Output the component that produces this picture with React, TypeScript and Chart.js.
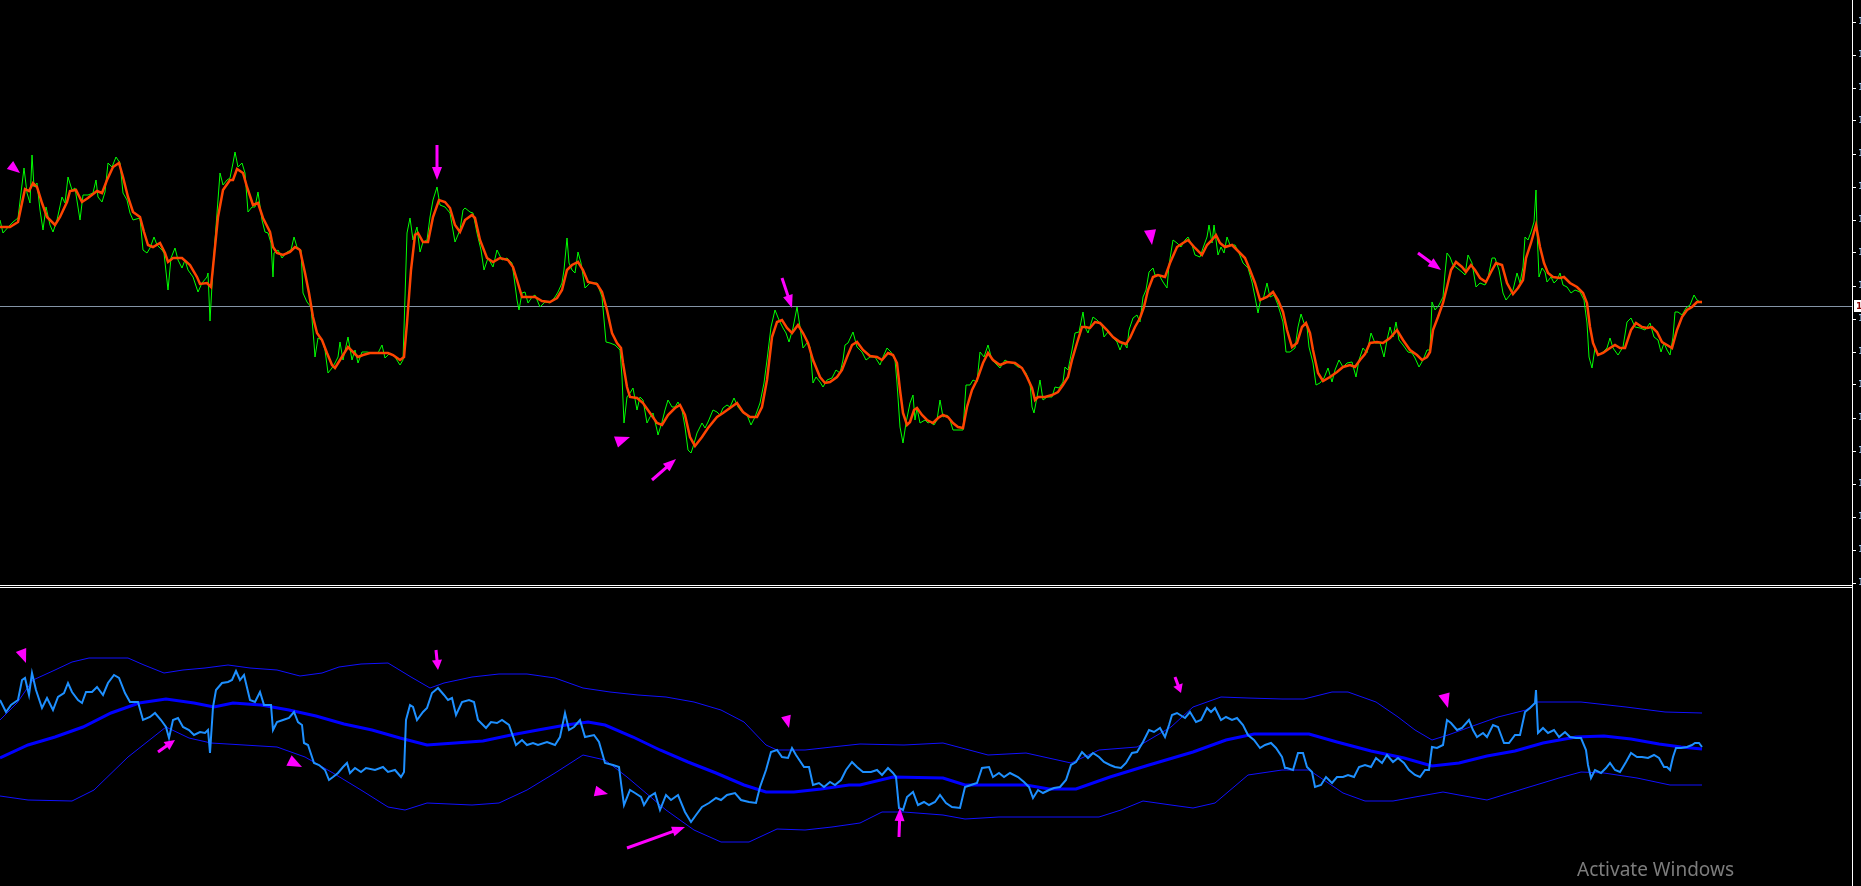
import React, { useEffect, useRef } from 'react';
import { Chart, registerables } from 'chart.js';

Chart.register(...registerables);

// ---------- price panel (bar index, price) ----------
const priceCloses: [number, number][] = [
  [0,1.12365],[3,1.12352],[10,1.12360],[13,1.12363],[18,1.12367],[21,1.12392],[24,1.12417],[27,1.12392],[30,1.12382],[32,1.12430],[34,1.12398],[37,1.12402],[40,1.12375],[43,1.12355],[46,1.12378],[50,1.12360],[53,1.12353],[57,1.12365],[62,1.12388],[65,1.12382],[68,1.12408],[72,1.12395],[75,1.12397],[80,1.12365],[83,1.12390],[88,1.12390],[93,1.12392],[96,1.12405],[98,1.12388],[102,1.12383],[105,1.12393],[108,1.12422],[112,1.12418],[116,1.12428],[120,1.12422],[123,1.12392],[127,1.12385],[130,1.12372],[133,1.12365],[140,1.12367],[143,1.12335],[147,1.12332],[150,1.12337],[154,1.12348],[157,1.12340],[162,1.12335],[164,1.12332],[168,1.12295],[171,1.12327],[175,1.12337],[178,1.12325],[182,1.12317],[185,1.12325],[188,1.12315],[193,1.12308],[198,1.12293],[202,1.12302],[207,1.12308],[208,1.12312],[210,1.12264],[213,1.12318],[217,1.12372],[220,1.12412],[223,1.12400],[227,1.12405],[230,1.12407],[233,1.12422],[235,1.12433],[238,1.12418],[242,1.12422],[245,1.12412],[248,1.12373],[252,1.12378],[255,1.12378],[258,1.12393],[262,1.12365],[265,1.12353],[268,1.12352],[271,1.12342],[273,1.12308],[274,1.12332],[278,1.12335],[282,1.12327],[287,1.12333],[291,1.12335],[294,1.12348],[297,1.12338],[301,1.12335],[303,1.12292],[307,1.12283],[311,1.12278],[314,1.12242],[315,1.12228],[318,1.12247],[322,1.12245],[325,1.12235],[328,1.12212],[332,1.12217],[335,1.12222],[338,1.12228],[340,1.12243],[343,1.12225],[348,1.12248],[352,1.12225],[355,1.12235],[358,1.12222],[362,1.12233],[367,1.12233],[373,1.12232],[378,1.12232],[382,1.12240],[385,1.12227],[390,1.12232],[395,1.12228],[400,1.12220],[403,1.12225],[405,1.12288],[407,1.12352],[410,1.12367],[413,1.12345],[417,1.12358],[420,1.12333],[423,1.12343],[427,1.12345],[430,1.12368],[433,1.12385],[437,1.12398],[440,1.12380],[445,1.12378],[450,1.12372],[455,1.12343],[460,1.12355],
  [463,1.12375],[465,1.12377],[470,1.12373],[473,1.12372],[477,1.12352],[481,1.12335],[484,1.12315],[488,1.12327],[493,1.12318],[497,1.12335],[502,1.12325],[507,1.12327],[512,1.12322],[514,1.12308],[517,1.12285],[519,1.12275],[522,1.12292],[525,1.12293],[528,1.12282],[532,1.12288],[535,1.12290],[540,1.12278],[545,1.12283],[550,1.12282],[555,1.12288],[558,1.12293],[562,1.12302],[564,1.12315],[567,1.12347],[569,1.12322],[572,1.12315],[575,1.12312],[578,1.12333],[581,1.12322],[585,1.12297],[590,1.12302],[597,1.12302],[602,1.12288],[606,1.12243],[610,1.12242],[615,1.12240],[620,1.12235],[622,1.12208],[624,1.12162],[627,1.12188],[630,1.12192],[633,1.12197],[637,1.12175],[640,1.12188],[643,1.12185],[647,1.12162],[650,1.12168],[653,1.12172],[657,1.12155],[658,1.12150],[662,1.12163],[665,1.12175],[668,1.12185],[672,1.12178],[675,1.12178],[678,1.12183],[682,1.12175],[685,1.12158],[688,1.12135],[691,1.12132],[693,1.12138],[697,1.12152],[702,1.12162],[705,1.12157],[708,1.12163],[713,1.12175],[717,1.12173],[720,1.12170],[723,1.12177],[727,1.12180],[730,1.12178],[734,1.12187],[738,1.12178],[743,1.12172],[747,1.12170],[751,1.12160],[755,1.12168],[760,1.12182],[764,1.12202],[767,1.12225],[771,1.12258],[775,1.12275],[779,1.12265],[783,1.12257],[786,1.12252],[789,1.12243],[793,1.12257],[797,1.12278],[800,1.12258],[803,1.12237],[807,1.12242],[810,1.12238],[813,1.12202],[816,1.12208],[820,1.12203],[823,1.12198],[827,1.12205],[832,1.12207],[836,1.12215],[840,1.12212],[843,1.12225],[845,1.12240],[848,1.12242],[853,1.12253],[857,1.12238],[862,1.12233],[866,1.12225],[870,1.12228],[875,1.12228],[880,1.12220],[883,1.12228],[887,1.12237],[891,1.12233],[895,1.12225],[897,1.12202],[900,1.12158],[903,1.12142],[906,1.12162],[910,1.12182],[913,1.12190],[915,1.12165],[917,1.12177],[920,1.12162],[925,1.12165],[928,1.12162],
  [930,1.12163],[934,1.12160],[937,1.12165],[940,1.12185],[943,1.12168],[947,1.12170],[950,1.12165],[953,1.12155],[958,1.12155],[963,1.12155],[966,1.12200],[970,1.12200],[973,1.12205],[977,1.12203],[980,1.12233],[984,1.12228],[988,1.12240],[992,1.12225],[995,1.12222],[1000,1.12217],[1005,1.12225],[1008,1.12223],[1013,1.12222],[1018,1.12218],[1022,1.12217],[1026,1.12212],[1030,1.12202],[1032,1.12178],[1034,1.12172],[1037,1.12188],[1040,1.12205],[1043,1.12185],[1047,1.12188],[1052,1.12188],[1055,1.12198],[1059,1.12197],[1063,1.12203],[1065,1.12218],[1068,1.12215],[1072,1.12235],[1075,1.12252],[1079,1.12253],[1083,1.12273],[1085,1.12258],[1088,1.12252],[1093,1.12268],[1097,1.12265],[1102,1.12260],[1104,1.12248],[1108,1.12253],[1113,1.12247],[1117,1.12243],[1120,1.12235],[1123,1.12243],[1127,1.12237],[1129,1.12255],[1133,1.12267],[1137,1.12270],[1140,1.12263],[1143,1.12288],[1146,1.12295],[1149,1.12313],[1153,1.12317],[1155,1.12310],[1159,1.12310],[1163,1.12303],[1167,1.12297],[1169,1.12320],[1173,1.12345],[1177,1.12342],[1181,1.12338],[1185,1.12345],[1188,1.12348],[1192,1.12340],[1195,1.12330],[1200,1.12328],[1203,1.12337],[1207,1.12348],[1209,1.12360],[1212,1.12342],[1214,1.12360],[1218,1.12330],[1221,1.12338],[1224,1.12332],[1227,1.12348],[1230,1.12340],[1235,1.12340],[1239,1.12332],[1243,1.12322],[1248,1.12317],[1252,1.12303],[1255,1.12288],[1258,1.12272],[1261,1.12287],[1263,1.12285],[1267,1.12302],[1270,1.12288],[1274,1.12290],[1278,1.12280],[1283,1.12263],[1286,1.12233],[1290,1.12233],[1295,1.12237],[1298,1.12258],[1301,1.12271],[1304,1.12262],[1307,1.12258],[1309,1.12238],[1313,1.12222],[1316,1.12200],[1320,1.12202],[1324,1.12207],[1328,1.12217],[1332,1.12203],[1335,1.12215],[1339,1.12225],[1343,1.12218],[1347,1.12222],[1352,1.12223],[1356,1.12208],[1359,1.12225],[1363,1.12237],[1367,1.12232],[1371,1.12252],[1375,1.12242],[1380,1.12242],[1384,1.12228],[1387,1.12245],
  [1390,1.12258],[1393,1.12248],[1396,1.12263],[1399,1.12245],[1403,1.12240],[1408,1.12233],[1412,1.12232],[1415,1.12227],[1419,1.12218],[1423,1.12225],[1427,1.12235],[1430,1.12235],[1432,1.12283],[1435,1.12275],[1439,1.12280],[1443,1.12288],[1445,1.12312],[1447,1.12332],[1450,1.12328],[1453,1.12320],[1457,1.12317],[1462,1.12313],[1465,1.12310],[1468,1.12330],[1472,1.12322],[1476,1.12298],[1480,1.12302],[1485,1.12300],[1488,1.12307],[1492,1.12327],[1495,1.12327],[1499,1.12315],[1503,1.12292],[1506,1.12285],[1510,1.12290],[1513,1.12295],[1517,1.12312],[1520,1.12302],[1523,1.12318],[1525,1.12348],[1528,1.12345],[1531,1.12353],[1534,1.12363],[1536,1.12395],[1537,1.12355],[1539,1.12308],[1542,1.12317],[1545,1.12313],[1547,1.12303],[1551,1.12308],[1554,1.12302],[1557,1.12305],[1560,1.12312],[1563,1.12300],[1567,1.12298],[1571,1.12292],[1575,1.12295],[1580,1.12293],[1584,1.12285],[1587,1.12262],[1589,1.12228],[1592,1.12217],[1595,1.12237],[1598,1.12230],[1603,1.12233],[1607,1.12237],[1610,1.12247],[1613,1.12237],[1618,1.12230],[1623,1.12238],[1627,1.12263],[1631,1.12267],[1635,1.12258],[1640,1.12257],[1645,1.12255],[1650,1.12262],[1654,1.12248],[1658,1.12245],[1661,1.12233],[1664,1.12242],[1667,1.12235],[1670,1.12230],[1673,1.12248],[1675,1.12273],[1678,1.12273],[1682,1.12270],[1686,1.12277],[1690,1.12280],[1694,1.12290],[1697,1.12285],[1702,1.12282]
];

const priceAverage: [number, number][] = [
  [0,1.12358],[10,1.12358],[18,1.12363],[22,1.12382],[25,1.12396],[29,1.12394],[33,1.12402],[37,1.12398],[42,1.12382],[47,1.12368],[55,1.12360],[60,1.12368],[67,1.12383],[70,1.12394],[76,1.12395],[82,1.12383],[88,1.12387],[97,1.12394],[102,1.12392],[107,1.12405],[113,1.12418],[119,1.12422],[123,1.12408],[128,1.12388],[133,1.12373],[140,1.12368],[144,1.12353],[148,1.12340],[153,1.12338],[160,1.12342],[165,1.12332],[168,1.12323],[173,1.12327],[182,1.12327],[190,1.12320],[197,1.12308],[200,1.12301],[207,1.12302],[211,1.12298],[215,1.12338],[218,1.12368],[223,1.12395],[230,1.12405],[233,1.12405],[237,1.12416],[243,1.12412],[247,1.12398],[253,1.12380],[258,1.12382],[263,1.12367],[270,1.12353],[273,1.12338],[277,1.12332],[283,1.12330],[290,1.12333],[295,1.12338],[300,1.12335],[305,1.12312],[309,1.12292],[313,1.12268],[317,1.12252],[322,1.12245],[327,1.12232],[332,1.12220],[335,1.12217],[340,1.12225],[348,1.12238],[353,1.12233],[358,1.12228],[363,1.12230],[370,1.12232],[380,1.12232],[388,1.12232],[393,1.12230],[400,1.12225],[404,1.12228],[407,1.12262],[411,1.12315],[415,1.12350],[418,1.12352],[423,1.12343],[428,1.12343],[433,1.12368],[439,1.12385],[445,1.12383],[450,1.12377],[455,1.12360],[460,1.12353],
  [465,1.12365],[472,1.12370],[475,1.12367],[480,1.12345],[487,1.12327],[493,1.12323],[500,1.12327],[508,1.12325],[513,1.12318],[517,1.12305],[522,1.12288],[527,1.12288],[535,1.12288],[542,1.12284],[550,1.12283],[557,1.12287],[562,1.12295],[567,1.12315],[572,1.12320],[578,1.12323],[583,1.12315],[588,1.12303],[597,1.12301],[602,1.12293],[607,1.12275],[612,1.12252],[617,1.12242],[621,1.12237],[623,1.12222],[627,1.12198],[630,1.12188],[637,1.12187],[643,1.12182],[650,1.12172],[657,1.12162],[662,1.12160],[668,1.12170],[675,1.12177],[680,1.12180],[685,1.12170],[690,1.12148],[695,1.12139],[702,1.12148],[708,1.12157],[717,1.12168],[723,1.12172],[730,1.12177],[737,1.12182],[743,1.12173],[750,1.12168],[757,1.12168],[762,1.12178],[767,1.12205],[772,1.12248],[777,1.12263],[782,1.12265],[787,1.12257],[792,1.12252],[798,1.12260],[803,1.12252],[808,1.12242],[813,1.12225],[820,1.12208],[825,1.12202],[830,1.12203],[837,1.12208],[842,1.12215],[847,1.12228],[852,1.12240],[857,1.12243],[863,1.12235],[870,1.12229],[877,1.12228],[882,1.12225],[888,1.12232],[893,1.12230],[897,1.12222],[900,1.12195],[903,1.12172],[907,1.12160],[910,1.12163],[914,1.12175],[917,1.12177],[922,1.12170],[927,1.12165],
  [933,1.12162],[938,1.12167],[943,1.12170],[948,1.12168],[953,1.12162],[958,1.12158],[963,1.12157],[967,1.12178],[972,1.12195],[977,1.12205],[983,1.12222],[988,1.12232],[993,1.12225],[1000,1.12220],[1007,1.12223],[1015,1.12222],[1022,1.12217],[1027,1.12208],[1032,1.12197],[1035,1.12185],[1038,1.12188],[1045,1.12188],[1052,1.12190],[1058,1.12193],[1063,1.12200],[1068,1.12208],[1072,1.12225],[1077,1.12242],[1082,1.12258],[1085,1.12258],[1090,1.12257],[1095,1.12263],[1100,1.12262],[1107,1.12255],[1113,1.12248],[1120,1.12243],[1126,1.12241],[1130,1.12247],[1135,1.12258],[1140,1.12267],[1144,1.12278],[1148,1.12295],[1153,1.12308],[1158,1.12310],[1165,1.12308],[1170,1.12322],[1177,1.12338],[1183,1.12342],[1188,1.12345],[1195,1.12337],[1202,1.12330],[1207,1.12340],[1212,1.12345],[1216,1.12350],[1220,1.12342],[1225,1.12338],[1232,1.12340],[1237,1.12335],[1245,1.12327],[1250,1.12315],[1255,1.12302],[1260,1.12285],[1267,1.12288],[1273,1.12293],[1278,1.12285],[1283,1.12273],[1287,1.12255],[1292,1.12238],[1297,1.12242],[1302,1.12258],[1306,1.12262],[1310,1.12252],[1313,1.12235],[1318,1.12212],[1323,1.12204],[1330,1.12208],[1337,1.12213],[1343,1.12218],[1350,1.12220],[1355,1.12218],[1360,1.12225],[1365,1.12231],[1370,1.12242],[1377,1.12243],[1383,1.12242],
  [1390,1.12247],[1397,1.12255],[1403,1.12245],[1410,1.12235],[1417,1.12230],[1422,1.12225],[1427,1.12228],[1430,1.12233],[1433,1.12255],[1438,1.12268],[1443,1.12282],[1447,1.12298],[1451,1.12315],[1456,1.12323],[1462,1.12318],[1466,1.12313],[1471,1.12320],[1475,1.12315],[1480,1.12307],[1486,1.12303],[1491,1.12313],[1496,1.12322],[1502,1.12320],[1507,1.12302],[1513,1.12291],[1518,1.12297],[1523,1.12305],[1526,1.12327],[1531,1.12342],[1536,1.12360],[1540,1.12338],[1544,1.12322],[1548,1.12312],[1553,1.12308],[1560,1.12307],[1564,1.12308],[1570,1.12302],[1577,1.12298],[1583,1.12292],[1587,1.12282],[1590,1.12258],[1593,1.12242],[1598,1.12230],[1603,1.12232],[1610,1.12237],[1615,1.12240],[1620,1.12237],[1625,1.12237],[1631,1.12255],[1636,1.12262],[1642,1.12258],[1647,1.12257],[1652,1.12258],[1657,1.12253],[1662,1.12243],[1667,1.12240],[1672,1.12237],[1677,1.12255],[1682,1.12268],[1687,1.12275],[1692,1.12278],[1697,1.12283],[1702,1.12283]
];

const bidPrice = 1.12279;
const priceTicks = [1.12563,1.1253,1.12497,1.12464,1.12431,1.12398,1.12365,1.12332,1.12299,1.12266,1.12233,1.122,1.12167,1.12134,1.12101,1.12068,1.12035,1.12002];

// ---------- indicator panel (bar index, value) ----------
const oscValues: [number, number][] = [
  [0,36],[6,24],[11,31],[18,36],[22,56],[25,58],[29,41],[32,63],[36,46],[42,28],[47,38],[53,26],[58,39],[64,43],[68,53],[72,44],[78,36],[82,33],[86,44],[92,44],[97,49],[103,41],[108,53],[114,61],[119,58],[125,43],[130,34],[138,34],[143,16],[150,19],[155,23],[161,16],[166,9],[169,-2],[173,16],[178,18],[183,9],[189,6],[194,1],[200,4],[205,3],[208,6],[210,-17],[213,29],[216,46],[222,53],[228,54],[232,56],[236,65],[240,56],[244,61],[250,36],[255,34],[260,44],[264,31],[271,31],[273,6],[277,14],[283,16],[289,18],[294,24],[298,14],[302,11],[304,-7],[308,-9],[314,-27],[319,-29],[325,-34],[329,-44],[333,-41],[338,-37],[343,-31],[347,-27],[350,-37],[355,-32],[361,-36],[366,-32],[375,-34],[383,-31],[388,-36],[395,-34],[401,-41],[404,-36],[406,16],[410,31],[413,29],[417,16],[423,24],[427,28],[432,43],[438,48],[444,41],[448,36],[452,38],[456,21],[462,34],[469,36],[474,34],[478,16],[486,8],[491,14],[497,13],[502,16],[509,11],[516,-9],[522,-4],[527,-9],[533,-7],[538,-9],[547,-6],[555,-9],[560,-1],[565,23],[569,6],[574,9],[580,16],[585,-1],[594,1],[599,-6],[605,-27],[613,-29],[619,-31],[621,-47],[624,-69],[630,-54],[635,-57],[641,-61],[644,-69],[649,-61],[655,-57],[660,-74],[666,-59],[671,-64],[678,-59],[685,-76],[691,-86],[696,-79],[702,-71],[709,-67],[716,-62],[721,-64],[727,-59],[735,-57],[741,-64],[749,-66],[756,-67],[760,-51],[766,-34],[771,-16],[777,-14],[782,-21],[788,-22],[792,-12],[796,-19],[804,-31],[809,-31],[813,-49],[819,-47],[824,-51],[830,-46],[835,-49],[841,-44],[846,-34],[852,-26],[857,-31],[863,-36],[868,-36],
  [871,-36],[877,-34],[882,-39],[888,-32],[893,-37],[896,-41],[899,-72],[903,-74],[907,-61],[913,-56],[918,-69],[924,-66],[929,-69],[935,-66],[940,-59],[946,-67],[952,-71],[960,-72],[965,-51],[971,-49],[977,-47],[982,-32],[989,-31],[993,-41],[999,-37],[1004,-41],[1010,-37],[1018,-41],[1024,-46],[1029,-51],[1033,-62],[1038,-54],[1043,-57],[1049,-54],[1054,-52],[1060,-51],[1066,-44],[1071,-29],[1076,-26],[1082,-16],[1088,-22],[1093,-17],[1099,-21],[1104,-26],[1110,-29],[1115,-31],[1121,-32],[1126,-27],[1132,-17],[1137,-16],[1143,-6],[1149,6],[1154,4],[1160,8],[1165,-1],[1169,11],[1172,21],[1177,23],[1185,18],[1190,24],[1196,14],[1201,16],[1207,28],[1211,24],[1215,28],[1221,16],[1226,19],[1232,16],[1237,18],[1243,11],[1248,1],[1254,-4],[1260,-12],[1265,-9],[1271,-7],[1276,-12],[1282,-21],[1285,-32],[1287,-32],[1293,-34],[1298,-17],[1303,-17],[1307,-31],[1312,-36],[1315,-51],[1321,-49],[1326,-41],[1332,-47],[1337,-41],[1343,-41],[1348,-39],[1354,-41],[1359,-31],[1365,-29],[1371,-31],[1376,-22],[1382,-27],[1387,-19],[1393,-26],[1398,-22],[1404,-27],[1409,-34],[1415,-39],[1420,-41],[1425,-34],[1429,-34],[1432,-11],[1437,-12],[1443,-9],[1447,16],[1451,13],[1457,6],[1462,8],[1469,16],[1473,6],[1477,-1],[1483,3],[1487,-1],[1493,11],[1498,9],[1504,-7],[1509,-7],[1515,1],[1520,1],[1525,24],[1530,28],[1535,33],[1536,46],[1538,3],[1543,8],[1548,3],[1554,6],[1559,-1],[1565,4],[1570,-1],[1576,-2],[1581,-2],[1586,-14],[1588,-29],[1591,-42],[1595,-34],[1601,-37],[1606,-32],[1610,-27],[1615,-34],[1620,-36],[1626,-26],[1631,-17],[1637,-21],[1642,-21],[1648,-22],[1654,-19],[1659,-22],[1664,-31],[1667,-31],[1670,-34],[1673,-21],[1676,-12],[1681,-12],[1687,-11],[1692,-9],[1695,-7],[1699,-7],[1702,-11]
];

const bandMiddle: [number, number][] = [
  [0,-22],[28,-9],[55,-1],[83,9],[111,23],[139,33],[166,37],[194,33],[214,29],[233,33],[261,31],[289,26],[316,20],[344,12],[372,6],[400,-2],[427,-9],[455,-7],[483,-5],[511,1],[538,6],[566,11],[588,14],[605,11],[633,-1],[660,-14],[688,-26],[716,-37],[744,-49],[766,-56],[794,-56],[821,-53],[849,-49],[860,-49],[893,-41],[943,-42],[965,-49],[999,-49],[1026,-49],[1049,-53],[1076,-53],[1110,-41],[1149,-29],[1193,-16],[1226,-4],[1254,2],[1282,2],[1309,2],[1337,-6],[1371,-15],[1404,-22],[1432,-30],[1459,-27],[1487,-20],[1515,-15],[1543,-7],[1576,-1],[1604,0],[1631,-3],[1659,-8],[1681,-11],[1702,-13]
];

const bandUpper: [number, number][] = [
  [0,16],[17,33],[33,56],[55,66],[72,74],[89,78],[128,78],[144,71],[164,63],[183,66],[205,68],[228,71],[250,68],[277,66],[300,60],[322,63],[339,69],[361,72],[388,73],[411,59],[430,48],[444,53],[472,59],[499,62],[527,62],[555,58],[583,48],[610,44],[638,41],[666,39],[694,34],[721,26],[744,14],[766,-9],[777,-14],[805,-14],[832,-11],[860,-8],[904,-9],[943,-7],[988,-19],[1026,-17],[1071,-27],[1099,-14],[1137,-11],[1171,9],[1193,29],[1221,39],[1248,38],[1282,37],[1304,37],[1332,44],[1348,44],[1376,34],[1398,19],[1415,6],[1432,-4],[1448,1],[1470,9],[1498,19],[1526,26],[1537,34],[1581,34],[1626,29],[1665,24],[1702,23]
];

const bandLower: [number, number][] = [
  [0,-60],[28,-64],[72,-65],[94,-54],[128,-21],[166,9],[189,-2],[211,-7],[277,-11],[305,-21],[333,-37],[361,-54],[388,-71],[405,-74],[427,-67],[472,-69],[499,-67],[527,-54],[555,-37],[583,-19],[605,-24],[627,-41],[666,-74],[694,-94],[721,-106],[749,-106],[777,-93],[805,-94],[832,-91],[860,-87],[882,-76],[904,-76],[943,-79],[965,-83],[999,-81],[1054,-81],[1099,-81],[1121,-74],[1143,-65],[1171,-69],[1193,-72],[1215,-67],[1248,-39],[1282,-34],[1309,-34],[1343,-57],[1365,-65],[1393,-65],[1415,-61],[1443,-56],[1459,-59],[1487,-64],[1526,-52],[1559,-42],[1581,-36],[1604,-37],[1637,-42],[1670,-49],[1702,-49]
];

// ---------- signal markers: from (bar, value) -> to (bar, value) ----------
type Marker = { kind: 'head' | 'arrow'; from: [number, number]; to: [number, number] };
const priceMarkers: Marker[] = [
  { kind: 'head', from: [10, 1.1242], to: [20, 1.12412] },
  { kind: 'arrow', from: [437, 1.1244], to: [437, 1.12405] },
  { kind: 'head', from: [616, 1.12143], to: [630, 1.12148] },
  { kind: 'arrow', from: [652, 1.12105], to: [676, 1.12126] },
  { kind: 'arrow', from: [782, 1.12307], to: [792, 1.12277] },
  { kind: 'head', from: [1150, 1.12355], to: [1152, 1.1234] },
  { kind: 'arrow', from: [1418, 1.12332], to: [1441, 1.12315] },
];
const oscMarkers: Marker[] = [
  { kind: 'head', from: [21, 86], to: [26, 73] },
  { kind: 'arrow', from: [158, -16], to: [175, -4] },
  { kind: 'head', from: [289, -24.5], to: [302, -31] },
  { kind: 'arrow', from: [436, 86], to: [438, 66] },
  { kind: 'head', from: [595, -55], to: [608, -58] },
  { kind: 'arrow', from: [627, -112], to: [685, -91] },
  { kind: 'head', from: [786, 20], to: [789, 8] },
  { kind: 'arrow', from: [899, -101], to: [900, -72] },
  { kind: 'arrow', from: [1175, 59], to: [1181, 43] },
  { kind: 'head', from: [1444, 42], to: [1448, 28] },
];

const VISIBLE_BARS = 1852;
const MAGENTA = '#ff00ff';

const toXY = (arr: [number, number][]) => arr.map(([x, y]) => ({ x, y }));

function markerPlugin(markers: Marker[]) {
  return {
    id: 'markers',
    afterDatasetsDraw(chart: any) {
      const { ctx, scales } = chart;
      const xs = scales.x, ys = scales.y;
      ctx.save();
      ctx.fillStyle = MAGENTA;
      ctx.strokeStyle = MAGENTA;
      for (const m of markers) {
        const x0 = xs.getPixelForValue(m.from[0]);
        const y0 = ys.getPixelForValue(m.from[1]);
        const x1 = xs.getPixelForValue(m.to[0]);
        const y1 = ys.getPixelForValue(m.to[1]);
        const dx = x1 - x0, dy = y1 - y0;
        const len = Math.hypot(dx, dy) || 1;
        const ux = dx / len, uy = dy / len;
        const px = -uy, py = ux;
        let hl: number, hw: number;
        if (m.kind === 'head') {
          hl = len; hw = len * 0.8;
        } else {
          hl = Math.min(13, len * 0.5); hw = 10;
          ctx.lineWidth = 3;
          ctx.lineCap = 'butt';
          ctx.beginPath();
          ctx.moveTo(x0, y0);
          ctx.lineTo(x1 - ux * hl * 0.8, y1 - uy * hl * 0.8);
          ctx.stroke();
        }
        const bx = x1 - ux * hl, by = y1 - uy * hl;
        ctx.beginPath();
        ctx.moveTo(x1, y1);
        ctx.lineTo(bx + (px * hw) / 2, by + (py * hw) / 2);
        ctx.lineTo(bx - (px * hw) / 2, by - (py * hw) / 2);
        ctx.closePath();
        ctx.fill();
      }
      ctx.restore();
    },
  };
}

const bidLinePlugin = {
  id: 'bidLine',
  beforeDatasetsDraw(chart: any) {
    const { ctx, chartArea, scales } = chart;
    const py = Math.round(scales.y.getPixelForValue(bidPrice)) + 0.5;
    ctx.save();
    ctx.strokeStyle = '#8494a6';
    ctx.lineWidth = 1;
    ctx.beginPath();
    ctx.moveTo(chartArea.left, py);
    ctx.lineTo(chartArea.right, py);
    ctx.stroke();
    ctx.restore();
  },
  afterDraw(chart: any) {
    const { ctx, chartArea, scales } = chart;
    const py = Math.round(scales.y.getPixelForValue(bidPrice));
    ctx.save();
    ctx.fillStyle = '#ffffff';
    ctx.fillRect(chartArea.right + 2, py - 6, 12, 12);
    ctx.fillStyle = '#8b0000';
    ctx.font = 'bold 9px "DejaVu Sans"';
    ctx.textBaseline = 'middle';
    ctx.fillText(bidPrice.toFixed(5), chartArea.right + 4, py + 0.5);
    ctx.restore();
  },
};

const separatorPlugin = {
  id: 'separator',
  afterDraw(chart: any) {
    const { ctx, chartArea } = chart;
    ctx.save();
    ctx.strokeStyle = '#ffffff';
    ctx.lineWidth = 1;
    ctx.beginPath();
    ctx.moveTo(0, 0.5);
    ctx.lineTo(chartArea.right, 0.5);
    ctx.moveTo(0, 2.5);
    ctx.lineTo(chartArea.right, 2.5);
    ctx.stroke();
    ctx.restore();
  },
};

export default function App() {
  const upRef = useRef<HTMLCanvasElement>(null);
  const loRef = useRef<HTMLCanvasElement>(null);

  useEffect(() => {
    document.body.style.margin = '0';
    document.body.style.background = '#000';

    const fitAxis = (s: any) => {
      s.width = 9;
      s.paddingTop = 0;
      s.paddingBottom = 0;
    };

    const up = new Chart(upRef.current as HTMLCanvasElement, {
      type: 'line',
      data: {
        datasets: [
          { label: 'MA', data: toXY(priceAverage), borderColor: '#ff4500', borderWidth: 2.5, pointRadius: 0, tension: 0 },
          { label: 'Close', data: toXY(priceCloses), borderColor: '#00ff00', borderWidth: 1, pointRadius: 0, tension: 0 },
        ],
      },
      options: {
        responsive: false,
        animation: false,
        events: [],
        layout: { padding: 0 },
        plugins: { legend: { display: false }, tooltip: { enabled: false } },
        scales: {
          x: { type: 'linear', min: 0, max: VISIBLE_BARS, display: false },
          y: {
            type: 'linear',
            position: 'right',
            min: 1.12,
            max: 1.12585,
            afterFit: fitAxis,
            afterBuildTicks: (s: any) => {
              s.ticks = priceTicks.map((v) => ({ value: v }));
            },
            grid: { drawOnChartArea: false, color: '#ffffff', tickColor: '#ffffff', tickLength: 4, lineWidth: 1 },
            border: { display: true, color: '#ffffff', width: 1 },
            ticks: {
              color: '#a8d4ff',
              padding: 2,
              autoSkip: false,
              font: { family: 'DejaVu Sans', size: 9 },
              callback: (v: any) => Number(v).toFixed(5),
            },
          },
        },
      },
      plugins: [bidLinePlugin, markerPlugin(priceMarkers)],
    } as any);

    const lo = new Chart(loRef.current as HTMLCanvasElement, {
      type: 'line',
      data: {
        datasets: [
          { label: 'Osc', data: toXY(oscValues), borderColor: '#1e90ff', borderWidth: 2, pointRadius: 0, tension: 0 },
          { label: 'Middle', data: toXY(bandMiddle), borderColor: '#0000ff', borderWidth: 3, pointRadius: 0, tension: 0 },
          { label: 'Upper', data: toXY(bandUpper), borderColor: '#1010ff', borderWidth: 1, pointRadius: 0, tension: 0 },
          { label: 'Lower', data: toXY(bandLower), borderColor: '#1010ff', borderWidth: 1, pointRadius: 0, tension: 0 },
        ],
      },
      options: {
        responsive: false,
        animation: false,
        events: [],
        layout: { padding: 0 },
        plugins: { legend: { display: false }, tooltip: { enabled: false } },
        scales: {
          x: { type: 'linear', min: 0, max: VISIBLE_BARS, display: false },
          y: {
            type: 'linear',
            position: 'right',
            min: -150,
            max: 151,
            afterFit: fitAxis,
            grid: { drawOnChartArea: false, drawTicks: false },
            border: { display: true, color: '#ffffff', width: 1 },
            ticks: { display: false },
          },
        },
      },
      plugins: [separatorPlugin, markerPlugin(oscMarkers)],
    } as any);

    return () => {
      up.destroy();
      lo.destroy();
    };
  }, []);

  return (
    <div style={{ position: 'fixed', left: 0, top: 0, width: 1861, height: 886, background: '#000', overflow: 'hidden' }}>
      <canvas ref={upRef} width={1861} height={585} style={{ position: 'absolute', left: 0, top: 0 }} />
      <canvas ref={loRef} width={1861} height={301} style={{ position: 'absolute', left: 0, top: 585 }} />
      <div
        style={{
          position: 'absolute',
          left: 1577,
          top: 856,
          color: '#7c7c7c',
          fontFamily: '"Noto Sans", sans-serif',
          fontSize: 19,
          whiteSpace: 'nowrap',
        }}
      >
        Activate Windows
      </div>
    </div>
  );
}
